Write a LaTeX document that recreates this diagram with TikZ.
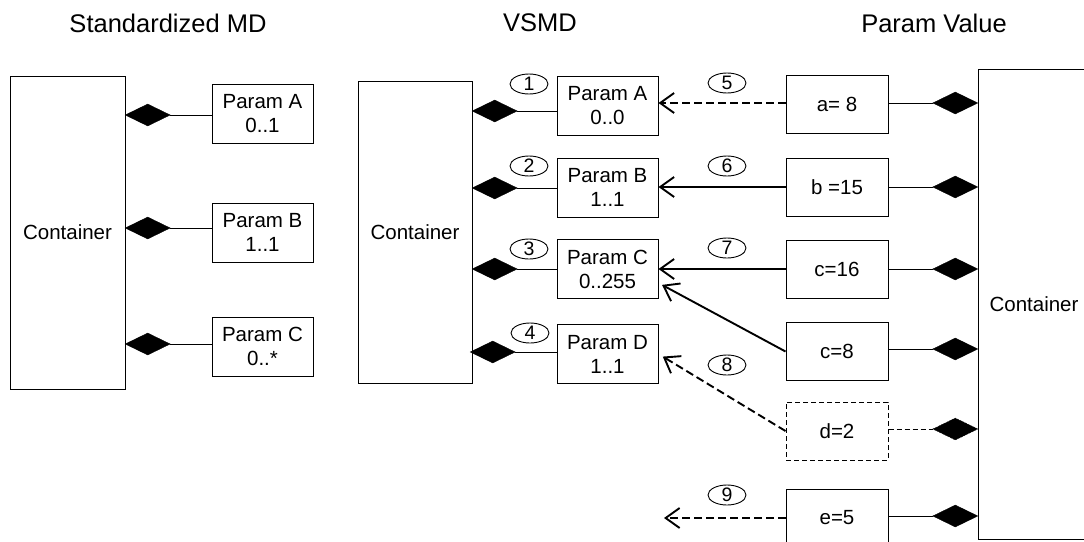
\documentclass[tikz,border=0pt]{standalone}
\usepackage{fontspec}
\setmainfont{Liberation Sans}
\usetikzlibrary{arrows.meta, shapes.geometric}

\begin{document}
\begin{tikzpicture}[
    x=1pt, y=-1pt,
    >={Straight Barb[length=14pt, width=20pt]},
    box/.style={draw, line width=1pt, minimum width=101pt, minimum height=59pt, inner sep=0pt, align=center, font=\fontsize{20.5pt}{24pt}\selectfont},
    valbox/.style={box, minimum width=102pt, minimum height=58pt},
    container/.style={draw, line width=1pt, inner sep=0pt, font=\fontsize{20.5pt}{24pt}\selectfont},
    comp/.style={diamond, aspect=2, fill=black, draw=black, minimum width=45pt, minimum height=22pt, inner sep=0pt},
    num/.style={draw, ellipse, line width=0.9pt, minimum width=38pt, minimum height=20pt, inner sep=0pt, font=\fontsize{19.5pt}{19.5pt}\selectfont},
    titlestyle/.style={font=\fontsize{25.5pt}{28pt}\selectfont},
    link/.style={line width=1pt},
    arr/.style={->, line width=1.9pt},
    dasharr/.style={arr, dash pattern=on 8pt off 4pt},
]
\useasboundingbox (0,0) rectangle (1084,541);

% ============ Standardized MD ============
\node[titlestyle] at (168, 23) {Standardized MD};

\node[container, minimum width=115pt, minimum height=313pt] (s_cont) at (67.5, 232.5) {Container};

\node[box] (s_pa) at (262.5, 113.5) {Param A\\0..1};
\node[box] (s_pb) at (262.5, 232.5) {Param B\\1..1};
\node[box] (s_pc) at (262.5, 346.5) {Param C\\0..*};

\node[comp, anchor=west] (s_da) at (125, 115) {};
\node[comp, anchor=west] (s_db) at (125, 228) {};
\node[comp, anchor=west] (s_dc) at (125, 344) {};

\draw[link] (s_da.east) -- (s_da.east -| s_pa.west);
\draw[link] (s_db.east) -- (s_db.east -| s_pb.west);
\draw[link] (s_dc.east) -- (s_dc.east -| s_pc.west);

% ============ VSMD ============
\node[titlestyle] at (540, 23) {VSMD};

\node[container, minimum width=114pt, minimum height=302pt] (v_cont) at (415, 232) {Container};

\node[box] (v_pa) at (607.5, 105.5) {Param A\\0..0};
\node[box] (v_pb) at (607.5, 187.5) {Param B\\1..1};
\node[box] (v_pc) at (607.5, 269) {Param C\\0..255};
\node[box] (v_pd) at (607.5, 354) {Param D\\1..1};

\node[comp, anchor=west] (v_da) at (472, 111) {};
\node[comp, anchor=west] (v_db) at (472, 188) {};
\node[comp, anchor=west] (v_dc) at (472, 269) {};
\node[comp, anchor=west] (v_dd) at (470, 352) {};

\draw[link] (v_da.east) -- (v_da.east -| v_pa.west);
\draw[link] (v_db.east) -- (v_db.east -| v_pb.west);
\draw[link] (v_dc.east) -- (v_dc.east -| v_pc.west);
\draw[link] (v_dd.east) -- (v_dd.east -| v_pd.west);

\node[num] (n1) at (529, 84) {1};
\node[num] (n2) at (529, 166) {2};
\node[num] (n3) at (529, 249) {3};
\node[num] (n4) at (530, 333) {4};

% ============ Param Value ============
\node[titlestyle] at (934, 23) {Param Value};

\node[container, minimum width=112pt, minimum height=470pt] (p_cont) at (1034, 304) {Container};

\node[valbox] (p_a) at (837, 104) {a= 8};
\node[valbox] (p_b) at (837, 187) {b =15};
\node[valbox] (p_c1) at (837, 269) {c=16};
\node[valbox] (p_c2) at (837, 351.5) {c=8};
\node[valbox, dash pattern=on 5pt off 3pt] (p_d) at (837, 431) {d=2};
\node[valbox] (p_e) at (837, 518) {e=5};

\node[comp, anchor=east] (p_da) at (978, 103) {};
\node[comp, anchor=east] (p_db) at (978, 187) {};
\node[comp, anchor=east] (p_dc1) at (978, 269) {};
\node[comp, anchor=east] (p_dc2) at (978, 349) {};
\node[comp, anchor=east, dash pattern=on 2pt off 1pt] (p_dd) at (978, 429) {};
\node[comp, anchor=east] (p_de) at (978, 516) {};

\draw[link] (p_a.east |- p_da.west) -- (p_da.west);
\draw[link] (p_b.east |- p_db.west) -- (p_db.west);
\draw[link] (p_c1.east |- p_dc1.west) -- (p_dc1.west);
\draw[link] (p_c2.east |- p_dc2.west) -- (p_dc2.west);
\draw[link, dash pattern=on 5pt off 3pt] (p_d.east |- p_dd.west) -- (p_dd.west);
\draw[link] (p_e.east |- p_de.west) -- (p_de.west);

% ============ value assignments ============
\coordinate (e_tip) at (664, 518);

\draw[dasharr] (p_a.west |- 0, 103) -- (v_pa.east |- 0, 103);
\draw[arr] (p_b.west) -- (p_b.west -| v_pb.east);
\draw[arr] (p_c1.west) -- (p_c1.west -| v_pc.east);
\draw[arr, shorten >=4pt] (p_c2.west) -- ([yshift=-14pt]v_pc.east);
\draw[dasharr, shorten >=5pt] (p_d.west) -- (v_pd.east);
\draw[dasharr] (p_e.west) -- (e_tip);

\node[num] (n5) at (727, 83) {5};
\node[num] (n6) at (727, 166) {6};
\node[num] (n7) at (727, 248) {7};
\node[num] (n8) at (727, 365) {8};
\node[num] (n9) at (727, 495) {9};

\end{tikzpicture}
\end{document}
